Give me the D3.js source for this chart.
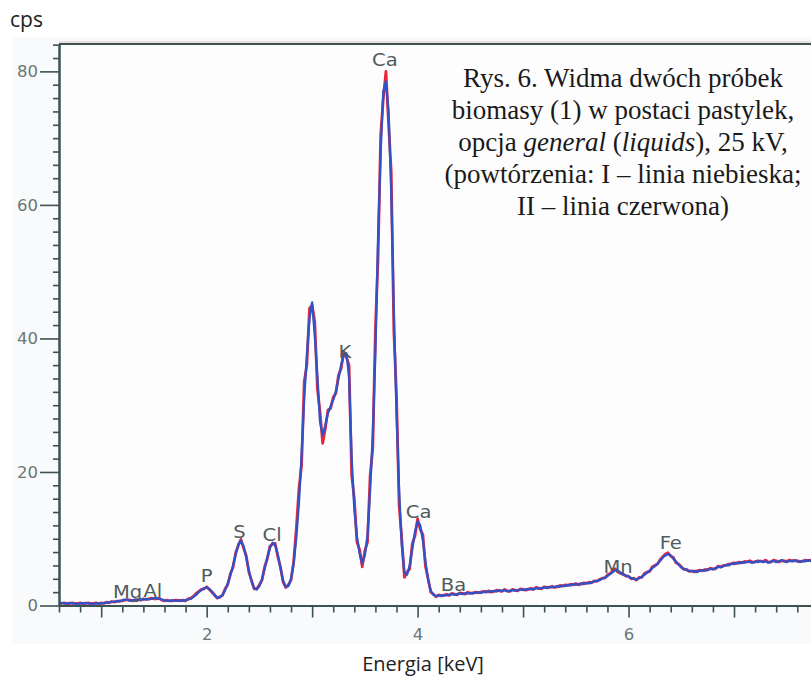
<!DOCTYPE html>
<html>
<head>
<meta charset="utf-8">
<script src="https://cdn.jsdelivr.net/npm/d3@7/dist/d3.min.js"></script>
<style>
  html, body { margin: 0; padding: 0; background: #ffffff; }
  svg { display: block; }
</style>
</head>
<body>
<svg id="chart" width="811" height="678"></svg>
<script>
// ---- data (cps per channel, channels every 0.025 keV starting at 0.6 keV) ----
const channelStart = 0.6;
const channelWidth = 0.025;

// Repetition I (blue line)
const seriesBlue = [
  0.3,0.4,0.3,0.3,0.4,0.3,0.3,0.2,0.3,0.3,
  0.4,0.3,0.3,0.2,0.3,0.3,0.3,0.4,0.4,0.5,
  0.5,0.6,0.7,0.6,0.8,0.9,0.8,0.7,0.8,0.9,
  0.8,0.9,0.9,1.0,0.9,1.0,1.1,1.1,1.0,0.9,
  0.8,0.7,0.7,0.8,0.7,0.7,0.8,0.7,0.8,0.9,
  1.0,1.3,1.6,2.0,2.3,2.6,2.7,2.5,2.1,1.5,
  1.2,1.2,1.6,2.3,3.3,4.5,6.0,7.6,9.1,9.7,
  8.9,7.2,5.3,3.6,2.6,2.4,2.9,4.0,5.5,7.2,
  8.6,9.4,9.0,7.6,5.5,3.7,2.8,2.9,4.0,6.3,
  10.2,15.4,22.5,31.0,37.5,43.0,45.4,40.5,34.3,27.5,
  25.5,27.0,28.8,29.8,30.8,32.0,34.0,36.0,37.5,37.8,
  34.3,22.0,14.5,10.3,7.8,6.3,7.5,10.5,17.3,25.5,
  38.0,55.0,68.0,77.0,78.5,74.0,62.0,44.0,29.0,17.0,
  9.0,5.0,4.6,6.0,8.5,11.0,12.6,12.0,9.8,6.5,
  3.8,2.2,1.6,1.4,1.5,1.4,1.6,1.5,1.6,1.7,
  1.6,1.7,1.8,1.7,1.8,1.8,1.9,1.8,1.9,2.0,
  1.9,2.0,2.1,2.0,2.1,2.2,2.1,2.3,2.2,2.3,
  2.1,2.2,2.3,2.2,2.3,2.4,2.3,2.4,2.5,2.4,
  2.5,2.6,2.5,2.6,2.7,2.6,2.8,2.7,2.8,2.9,
  2.8,3.0,2.9,3.1,3.0,3.2,3.1,3.2,3.3,3.2,
  3.4,3.3,3.5,3.6,3.7,3.8,4.0,4.2,4.4,4.7,
  5.0,5.3,5.2,4.9,4.6,4.5,4.3,4.1,4.0,3.9,
  4.1,4.3,4.6,4.9,5.2,5.6,5.9,6.3,6.7,7.2,
  7.5,7.7,7.5,7.0,6.6,6.1,5.7,5.5,5.3,5.2,
  5.1,5.2,5.0,5.2,5.3,5.2,5.4,5.5,5.4,5.6,
  5.8,5.7,5.9,6.1,6.0,6.3,6.2,6.4,6.3,6.5,
  6.4,6.6,6.5,6.4,6.6,6.5,6.7,6.5,6.6,6.4,
  6.6,6.7,6.5,6.6,6.8,6.6,6.5,6.7,6.6,6.8,
  6.6,6.5,6.7,6.6,6.8,6.7,6.6
];

// Repetition II (red line)
const seriesRed = [
  0.4,0.3,0.4,0.3,0.3,0.4,0.3,0.3,0.4,0.3,
  0.3,0.4,0.3,0.3,0.4,0.3,0.4,0.3,0.5,0.4,
  0.6,0.5,0.6,0.7,0.7,0.8,0.9,0.8,0.7,0.8,
  0.9,0.8,1.0,0.9,1.0,1.1,1.0,1.0,1.1,0.8,
  0.7,0.8,0.7,0.7,0.8,0.8,0.7,0.8,0.7,1.0,
  1.1,1.4,1.8,2.1,2.4,2.5,2.8,2.4,2.0,1.6,
  1.1,1.3,1.5,2.5,3.1,4.8,5.7,7.9,9.0,9.9,
  8.6,7.5,5.0,3.8,2.5,2.5,3.1,3.8,5.8,7.0,
  8.9,9.2,9.3,7.3,5.8,3.5,2.7,3.1,3.8,6.6,
  11.5,17.5,21.0,33.5,36.0,44.5,45.0,42.5,32.5,29.0,
  24.3,26.5,29.3,29.5,31.2,31.8,34.5,35.5,38.0,37.2,
  36.0,19.5,16.0,9.5,8.4,5.8,8.2,9.5,19.5,23.5,
  41.5,52.0,70.5,76.0,80.0,72.0,65.0,41.0,31.5,15.0,
  10.0,4.2,5.0,5.5,9.3,10.4,13.0,11.4,10.6,5.8,
  4.0,2.0,1.7,1.3,1.6,1.5,1.5,1.7,1.5,1.8,
  1.7,1.6,1.9,1.8,1.7,2.0,1.8,1.9,2.0,1.9,
  2.0,2.1,2.0,2.2,2.0,2.1,2.3,2.2,2.1,2.4,
  2.2,2.1,2.4,2.3,2.2,2.5,2.4,2.3,2.4,2.6,
  2.4,2.7,2.6,2.5,2.8,2.7,2.7,2.9,2.7,2.8,
  3.0,2.9,3.1,3.0,3.2,3.1,3.3,3.1,3.2,3.4,
  3.3,3.5,3.4,3.7,3.6,3.9,4.1,4.1,4.6,4.8,
  5.2,5.5,5.0,4.8,4.7,4.4,4.4,4.0,4.1,3.8,
  4.2,4.2,4.8,5.0,5.1,5.8,6.0,6.2,6.9,7.3,
  7.7,7.9,7.4,7.2,6.4,6.2,5.8,5.4,5.4,5.1,
  5.2,5.0,5.2,5.3,5.2,5.4,5.3,5.6,5.5,5.5,
  5.9,5.8,6.0,6.0,6.2,6.2,6.4,6.3,6.5,6.4,
  6.6,6.5,6.7,6.5,6.5,6.7,6.6,6.6,6.8,6.5,
  6.5,6.8,6.7,6.5,6.7,6.7,6.6,6.8,6.7,6.7,
  6.7,6.6,6.6,6.8,6.7,6.8,6.8
];

// Element labels: name, energy [keV], cps level of the label baseline
const peakNames  = ["Mg", "Al", "P",  "S",  "Cl", "K",  "Ca", "Ca", "Ba", "Mn", "Fe"];
const peakEnergy = [1.25, 1.49, 2.00, 2.31, 2.62, 3.31, 3.69, 4.01, 4.34, 5.90, 6.40];
const peakLabelY = [1.1,  1.2,  3.5,  10.1, 9.7,  37.0, 80.8, 13.1, 2.2,  4.9,  8.4];

const xMajorTicks = [1, 2, 3, 4, 5, 6, 7];
const xTickLabels = [2, 4, 6];
const yMajorTicks = [0, 20, 40, 60, 80];

const titleLines = [
  [{t: "Rys. 6. Widma dwóch próbek"}],
  [{t: "biomasy (1) w postaci pastylek,"}],
  [{t: "opcja "}, {t: "general", i: true}, {t: " ("}, {t: "liquids", i: true}, {t: "), 25 kV,"}],
  [{t: "(powtórzenia: I – linia niebieska;"}],
  [{t: "II – linia czerwona)"}]
];

// ---- drawing ----
(function () {
const svg = d3.select("#chart");
const W = 811, H = 678;
const pLeft = 59, pRight = 811, pTop = 44, pBottom = 605.5;

const x = d3.scaleLinear().domain([0.6, 7.73]).range([pLeft, pRight]);
const y = d3.scaleLinear().domain([0, 84.1]).range([pBottom, pTop]);

const axisColor = "#3d5353";
const tickTextColor = "#687878";

// faint image background
svg.append("rect").attr("x", 12).attr("y", 37).attr("width", W - 12).attr("height", 607)
  .attr("fill", "#f9fafb");
svg.append("rect").attr("x", pLeft).attr("y", pTop).attr("width", pRight - pLeft).attr("height", pBottom - pTop)
  .attr("fill", "#fdfdfe");

const toPoints = arr => arr.map((v, i) => [channelStart + i * channelWidth, v]);

svg.append("clipPath").attr("id", "plotclip")
  .append("rect").attr("x", pLeft).attr("y", pTop - 2).attr("width", pRight - pLeft).attr("height", pBottom - pTop + 2);

const line = d3.line().x(d => x(d[0])).y(d => y(d[1])).curve(d3.curveLinear);

const plot = svg.append("g").attr("clip-path", "url(#plotclip)");
plot.append("path").datum(toPoints(seriesRed))
  .attr("d", line).attr("fill", "none").attr("stroke", "#e8283a").attr("stroke-width", 2.8)
  .attr("stroke-linejoin", "round");
plot.append("path").datum(toPoints(seriesBlue))
  .attr("d", line).attr("fill", "none").attr("stroke", "#2f52c9").attr("stroke-width", 2.3)
  .attr("stroke-linejoin", "round");

// x axis
const xMinor = d3.range(0, 36).map(i => Math.round((0.6 + i * 0.2) * 10) / 10)
  .filter(v => v <= 7.73 && !xMajorTicks.includes(v));
const gxMinor = svg.append("g").attr("transform", `translate(0,${pBottom})`)
  .call(d3.axisBottom(x).tickValues(xMinor).tickSize(7).tickSizeOuter(0).tickFormat(""));
const gx = svg.append("g").attr("transform", `translate(0,${pBottom})`)
  .call(d3.axisBottom(x).tickValues(xMajorTicks).tickSize(12).tickSizeOuter(0).tickPadding(11)
    .tickFormat(d => xTickLabels.includes(d) ? d : ""));

// y axis
const yMinor = d3.range(0, 85, 2).filter(v => !yMajorTicks.includes(v));
const gyMinor = svg.append("g").attr("transform", `translate(${pLeft},0)`)
  .call(d3.axisLeft(y).tickValues(yMinor).tickSize(6).tickSizeOuter(0).tickFormat(""));
const gy = svg.append("g").attr("transform", `translate(${pLeft},0)`)
  .call(d3.axisLeft(y).tickValues(yMajorTicks).tickSize(19).tickSizeOuter(0).tickPadding(2));

[gxMinor, gx, gyMinor, gy].forEach(g => {
  g.selectAll("path.domain").attr("stroke", axisColor).attr("stroke-width", 2);
  g.selectAll(".tick line").attr("stroke", axisColor).attr("stroke-width", 1.6);
  g.selectAll(".tick text").attr("fill", tickTextColor)
    .style("font-family", "'DejaVu Sans', Verdana, sans-serif").style("font-size", "16.5px");
});

// top frame line
svg.append("line").attr("x1", pLeft).attr("x2", pRight).attr("y1", pTop).attr("y2", pTop)
  .attr("stroke", axisColor).attr("stroke-width", 2);
svg.append("line").attr("x1", pLeft).attr("x2", pRight).attr("y1", pTop - 2).attr("y2", pTop - 2)
  .attr("stroke", "#c9a99a").attr("stroke-width", 1).attr("opacity", 0.6);

// element labels (slightly widened glyphs, as in the source picture)
svg.append("g").selectAll("text").data(peakNames).join("text")
  .attr("transform", (d, i) => `translate(${x(peakEnergy[i])},${y(peakLabelY[i])}) scale(1.15,1)`)
  .attr("text-anchor", "middle")
  .attr("fill", "#4f5b5c")
  .style("font-family", "'DejaVu Sans', Verdana, sans-serif")
  .style("font-size", "17px")
  .text(d => d);

// caption block
const cap = svg.append("g");
titleLines.forEach((parts, li) => {
  const t = cap.append("text")
    .attr("x", 623).attr("y", 87 + li * 32)
    .attr("text-anchor", "middle")
    .attr("fill", "#1a1a1a")
    .style("font-family", "'Liberation Serif', 'Times New Roman', serif")
    .style("font-size", "27px");
  parts.forEach(p => {
    t.append("tspan").text(p.t).style("font-style", p.i ? "italic" : "normal");
  });
});

// axis titles
svg.append("text").attr("x", 10).attr("y", 27)
  .attr("fill", "#222")
  .style("font-family", "'Open Sans', sans-serif").style("font-size", "21px")
  .text("cps");
svg.append("text").attr("x", 423).attr("y", 671).attr("text-anchor", "middle")
  .attr("fill", "#222")
  .style("font-family", "'Open Sans', sans-serif").style("font-size", "20px")
  .text("Energia [keV]");
})();
</script>
</body>
</html>
